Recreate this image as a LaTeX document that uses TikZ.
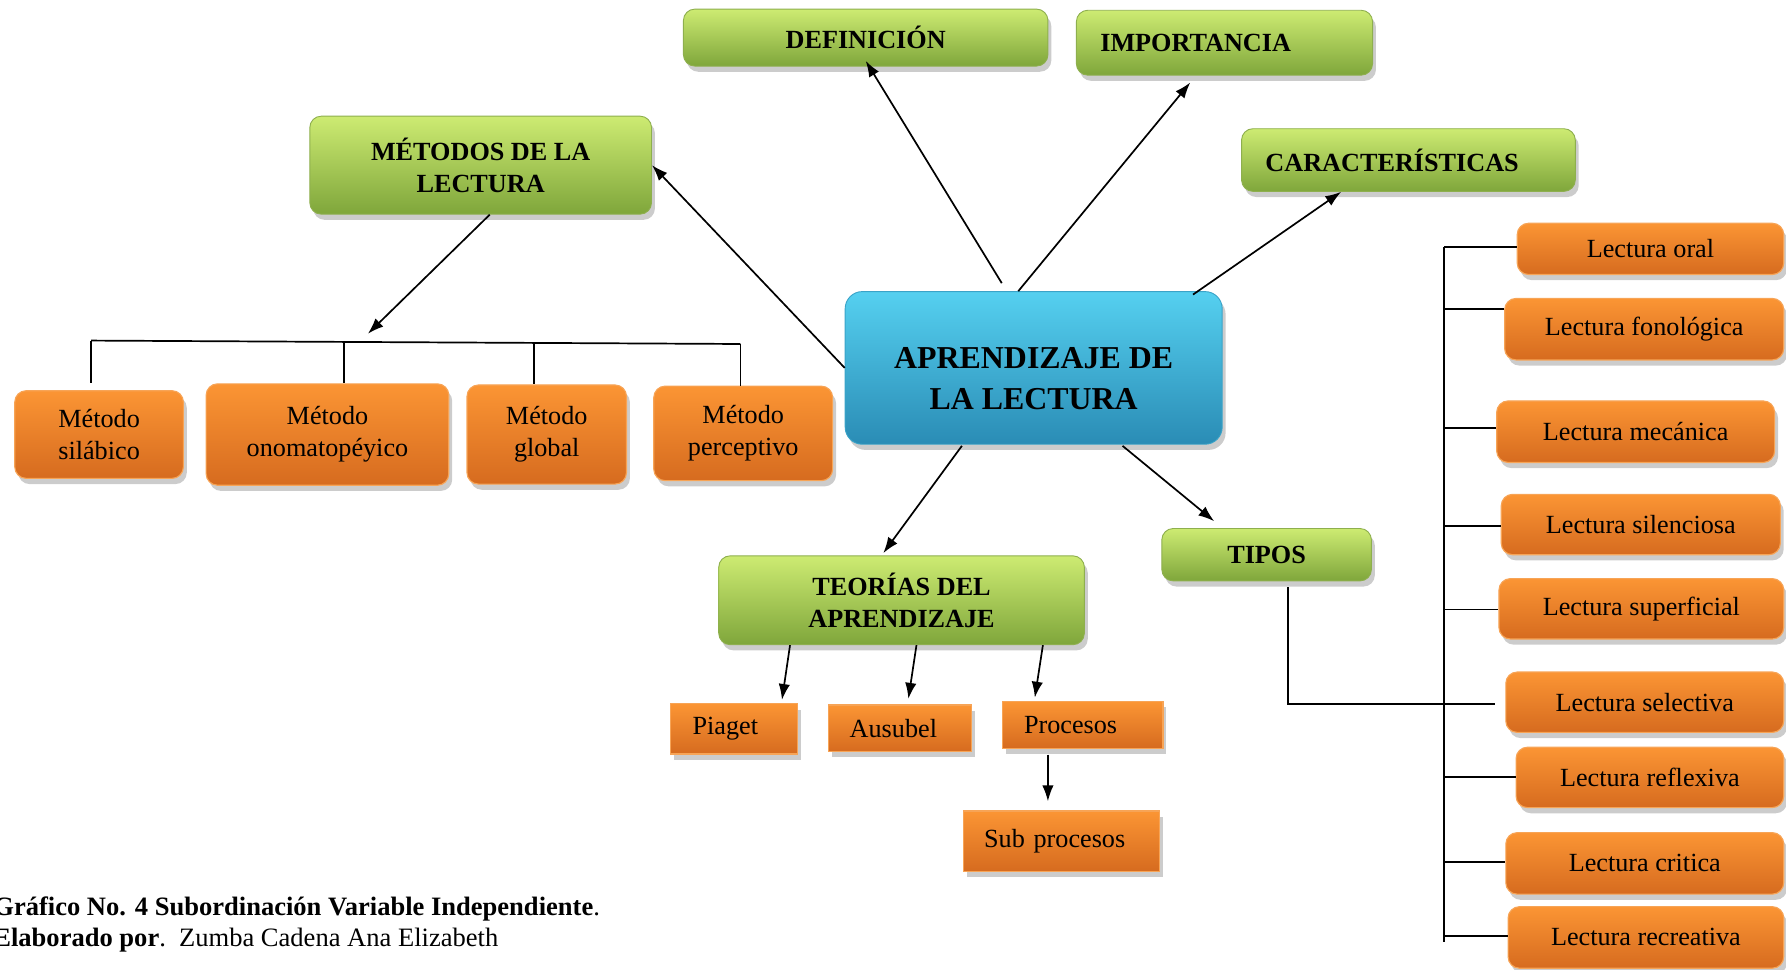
\documentclass[tikz,border=0pt]{standalone}
\usepackage{fontspec}
\setmainfont{Liberation Serif}
\usetikzlibrary{arrows.meta,shadows,calc}
\definecolor{gTop}{HTML}{CDEB72}
\definecolor{gBot}{HTML}{7FA63B}
\definecolor{gLine}{HTML}{8EAF4E}
\definecolor{bTop}{HTML}{55D0F0}
\definecolor{bBot}{HTML}{2A8CB5}
\definecolor{bLine}{HTML}{3AA3C8}
\definecolor{oTop}{HTML}{FB9534}
\definecolor{oBot}{HTML}{D66B1F}
\definecolor{oLine}{HTML}{F7A456}
\tikzset{
  shadowed/.style={drop shadow={shadow xshift=3pt,shadow yshift=-5pt,fill=black,opacity=0.2}},
  greenbox/.style={shadowed,rounded corners=10pt,top color=gTop,bottom color=gBot,draw=gLine,line width=0.8pt,
    inner sep=0pt,align=center,font=\fontsize{23}{28}\selectfont\bfseries},
  bluebox/.style={shadowed,rounded corners=15pt,top color=bTop,bottom color=bBot,draw=bLine,line width=0.8pt,
    inner sep=0pt},
  bluetext/.style={inner sep=0pt,align=center,font=\fontsize{28}{36}\selectfont\bfseries},
  orround/.style={shadowed,rounded corners=10pt,top color=oTop,bottom color=oBot,draw=oLine,line width=1pt,
    inner sep=0pt,align=center,font=\fontsize{23}{28}\selectfont},
  orrect/.style={shadowed,top color=oTop,bottom color=oBot,draw=oLine,line width=1pt,
    inner ysep=0pt,align=left,font=\fontsize{23}{28}\selectfont},
  conn/.style={line width=1.5pt,black},
  arr/.style={conn,-{Latex[length=14pt,width=10pt]}},
}
\begin{document}
\begin{tikzpicture}[x=1pt,y=-1pt]
\useasboundingbox (0,0) rectangle (1568,851);
% green boxes
\node[greenbox,minimum width=320pt,minimum height=50pt] (def) at (760,33) {DEFINICIÓN};
\node[greenbox,minimum width=260pt,minimum height=57pt,text width=218pt,inner xsep=21pt,align=left] (imp) at (1075,37.5) {IMPORTANCIA};
\node[greenbox,minimum width=293pt,minimum height=55pt,text width=251pt,inner xsep=21pt,align=left] (car) at (1236.5,140.5) {CARACTERÍSTICAS};
\node[greenbox,minimum width=300pt,minimum height=86pt] (met) at (422,145) {MÉTODOS DE LA\\LECTURA};
\node[greenbox,minimum width=321pt,minimum height=78pt] (teo) at (791.5,527) {TEORÍAS DEL\\APRENDIZAJE};
\node[greenbox,minimum width=184pt,minimum height=46pt] (tip) at (1112,487) {TIPOS};
% central
\node[bluebox,minimum width=331pt,minimum height=134pt] (ctr) at (907.5,323) {};
\node[bluetext] (ctrtxt) at ($(ctr.center)+(0,9)$) {APRENDIZAJE DE\\LA LECTURA};
% methods
\node[orround,minimum width=148pt,minimum height=77pt] (m1) at (87,381.5) {Método\\silábico};
\node[orround,minimum width=213pt,minimum height=89pt] (m2) at (287.5,381.5) {Método\\onomatopéyico};
\node[orround,minimum width=140pt,minimum height=87pt] (m3) at (480,381.5) {Método\\global};
\node[orround,minimum width=157pt,minimum height=83pt] (m4) at (652.5,380.5) {Método\\perceptivo};
% theories
\node[orrect,minimum width=111pt,minimum height=44pt,text width=73pt,inner xsep=19pt] (pia) at (644.5,640) {Piaget};
\node[orrect,minimum width=126pt,minimum height=41pt,text width=88pt,inner xsep=19pt] (aus) at (790,639.5) {Ausubel};
\node[orrect,minimum width=141pt,minimum height=41pt,text width=103pt,inner xsep=19pt] (pro) at (950.5,636.5) {Procesos};
\node[orrect,minimum width=172pt,minimum height=53pt,text width=136pt,inner xsep=18pt] (sub) at (932,738.5) {Sub procesos};
% types
\node[orround,minimum width=234pt,minimum height=45pt] (lo) at (1449,218.5) {Lectura oral};
\node[orround,minimum width=245pt,minimum height=54pt] (lf) at (1443.5,289) {Lectura fonológica};
\node[orround,minimum width=244pt,minimum height=54pt] (lm) at (1436,379) {Lectura mecánica};
\node[orround,minimum width=245pt,minimum height=53pt] (lsi) at (1440.5,460.5) {Lectura silenciosa};
\node[orround,minimum width=250pt,minimum height=53pt] (lsu) at (1441,534.5) {Lectura superficial};
\node[orround,minimum width=244pt,minimum height=53pt] (lse) at (1444,616.5) {Lectura selectiva};
\node[orround,minimum width=235pt,minimum height=53pt] (lr) at (1448.5,682.5) {Lectura reflexiva};
\node[orround,minimum width=244pt,minimum height=54pt] (lc) at (1444,758) {Lectura critica};
\node[orround,minimum width=242pt,minimum height=54pt] (lre) at (1445,823) {Lectura recreativa};
% arrows from the centre
\draw[arr] ($(ctr.north)+(-28,-7)$) -- ($(def.south)+(0,-5)$);
\draw[arr] ($(ctr.north)+(-13.5,0)$) -- ($(imp.south)+(-30,6)$);
\draw[arr] ($(ctr.north east)+(-26,3)$) -- ($(car.south)+(-59,0)$);
\draw[arr] (ctr.west) -- (met.east);
\draw[arr] ($(ctr.south)+(-63,1)$) -- ($(teo.north)+(-16,-2)$);
\draw[arr] ($(ctr.south)+(78,1)$) -- ($(tip.north)+(-46,-6)$);
% methods bracket
\coordinate (b1) at (80,299);
\coordinate (b2) at (302,300);
\coordinate (b3) at (469,301);
\coordinate (b4) at (650,302);
\coordinate (bt) at (323,293);
\draw[arr] ($(met.south)+(8,0)$) -- (bt);
\draw[conn] (b1) -- (b4);
\draw[conn] (b1) -- ($(b1 |- m1.north)+(0,-6)$);
\draw[conn] (b2) -- (b2 |- m2.north);
\draw[conn] (b3) -- (b3 |- m3.north);
\draw[conn] (b4) -- (b4 |- m4.north);
% theories
\draw[arr] ($(teo.south west)+(63,0)$) -- ($(pia.north west)+(98,-3)$);
\draw[arr] ($(teo.south west)+(174,0)$) -- ($(aus.north west)+(71,-5)$);
\draw[arr] ($(teo.south west)+(285,0)$) -- ($(pro.north west)+(29,-3)$);
\draw[arr] ($(pro.south)+(-30.5,5)$) -- ($(sub.north)+(-12,-8)$);
% types spine
\coordinate (st) at (1268,217);
\coordinate (sb) at (1268,827);
\draw[conn] (st) -- (sb);
\draw[conn] (st) -- (st -| lo.west);
\draw[conn] ($(st |- lf.west)+(0,-18)$) -- ($(lf.west)+(0,-18)$);
\draw[conn] ($(st |- lm.west)+(0,-3)$) -- ($(lm.west)+(0,-3)$);
\draw[conn] ($(st |- lsi.west)+(0,1)$) -- ($(lsi.west)+(0,1)$);
\draw[conn] ($(st |- lsu.west)+(0,0.5)$) -- ($(lsu.west)+(0,0.5)$);
\draw[conn] ($(tip.south)+(19,5)$) |- ($(lse.west)+(-9,1.5)$);
\draw[conn] ($(st |- lr.west)+(0,-0.5)$) -- ($(lr.west)+(0,-0.5)$);
\draw[conn] ($(st |- lc.west)+(0,-1)$) -- ($(lc.west)+(0,-1)$);
\draw[conn] ($(st |- lre.west)+(0,-1)$) -- ($(lre.west)+(0,-1)$);
% caption
\node[anchor=base west,inner sep=0pt,font=\fontsize{23.3}{27}\selectfont] (cap1) at (-6,804) {\textbf{Gráfico No. 4 Subordinación Variable Independiente}.};
\node[anchor=base west,inner sep=0pt,font=\fontsize{23.3}{27}\selectfont] (cap2) at (-6,831) {\textbf{Elaborado por}.\ \ Zumba Cadena Ana Elizabeth};
\end{tikzpicture}
\end{document}
